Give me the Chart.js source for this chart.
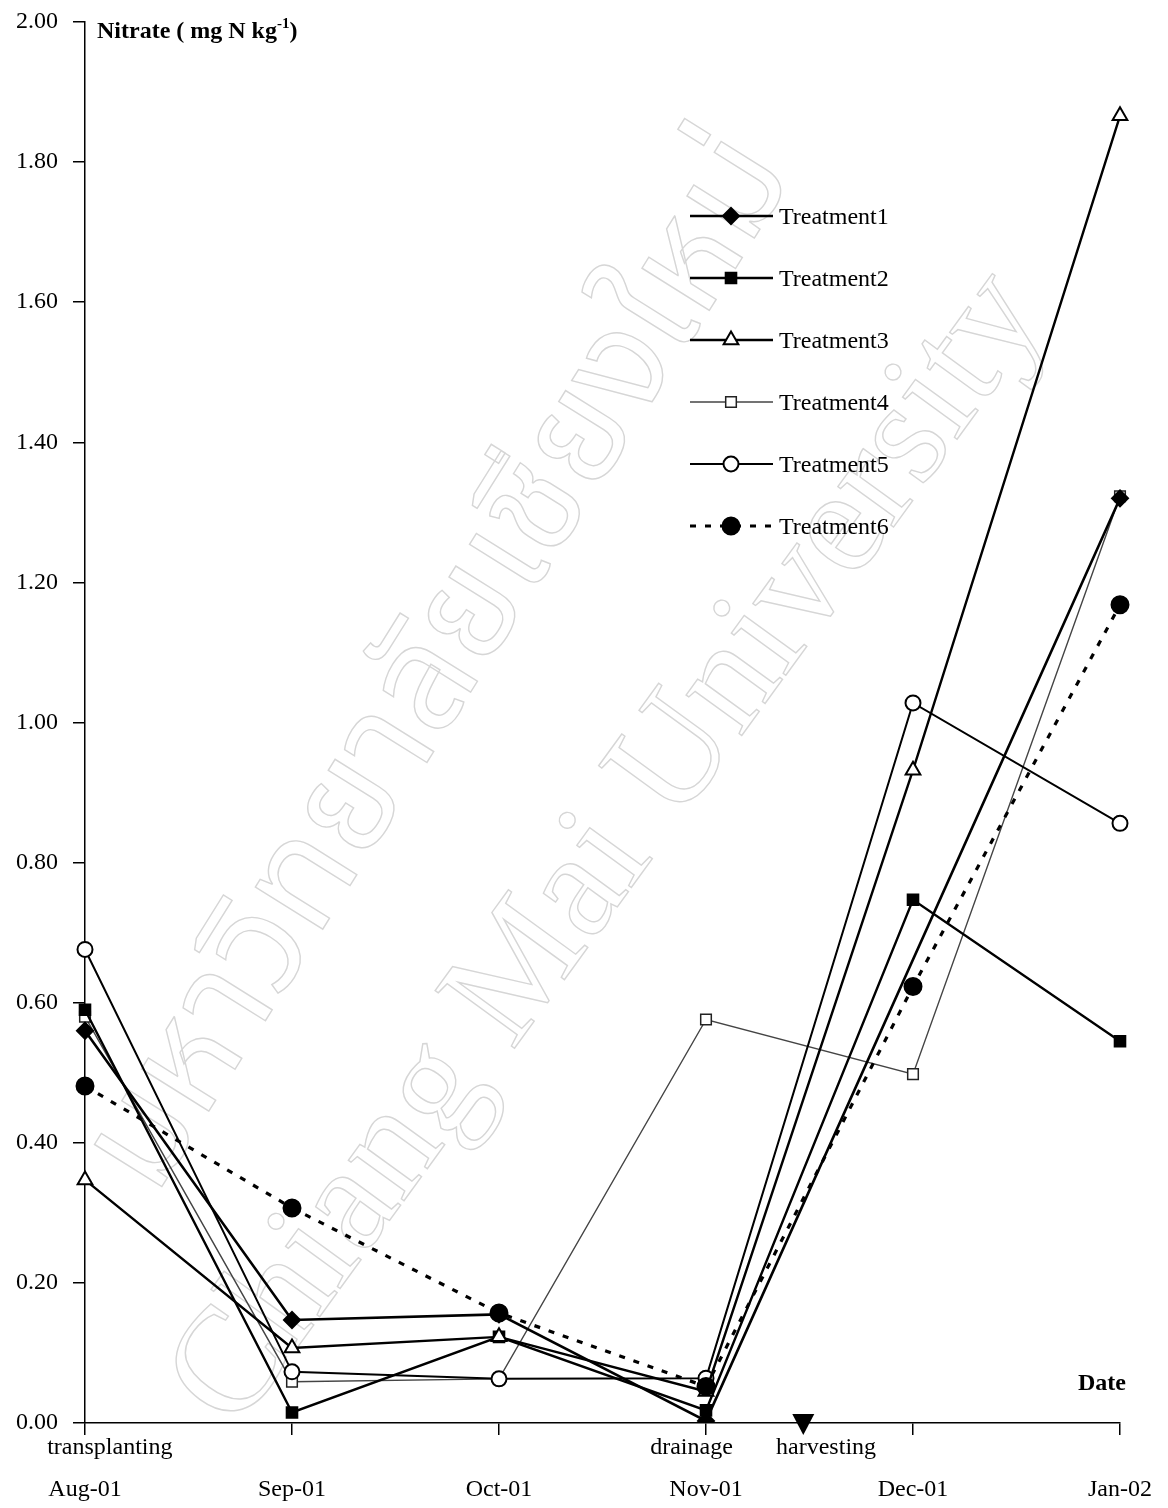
<!DOCTYPE html>
<html>
<head>
<meta charset="utf-8">
<script src="https://cdn.jsdelivr.net/npm/chart.js@4.4.1/dist/chart.umd.min.js"></script>
<style>
  html, body { margin: 0; padding: 0; background: #fff; }
  #wrap { width: 1168px; height: 1508px; }
</style>
</head>
<body>
<div id="wrap"><canvas id="nitrateChart" width="1168" height="1508"></canvas></div>
<script>
// ---- data ----
const months = ['Aug-01', 'Sep-01', 'Oct-01', 'Nov-01', 'Dec-01', 'Jan-02'];
const yTicks = [0, 0.2, 0.4, 0.6, 0.8, 1.0, 1.2, 1.4, 1.6, 1.8, 2.0];

const treatment1 = [0.560, 0.147, 0.155, 0.003, null, 1.320];
const treatment2 = [0.590, 0.015, 0.123, 0.018, 0.747, 0.545];
const treatment3 = [0.347, 0.107, 0.123, 0.045, 0.932, 1.866];
const treatment4 = [0.580, 0.059, 0.063, 0.576, 0.498, 1.323];
const treatment5 = [0.676, 0.073, 0.063, 0.064, 1.028, 0.856];
const treatment6 = [0.481, 0.307, 0.157, 0.052, 0.623, 1.168];

// events marked under the x axis (position in month units)
const events = [
  { label: 'transplanting', at: 0.12 },
  { label: 'drainage', at: 3.0 - 0.07 },
  { label: 'harvesting', at: 3.58 }
];
const harvestMark = 3.47;

const serif = '"Liberation Serif", "Times New Roman", serif';

// faint watermark text behind the plot
const watermark = {
  id: 'watermark',
  beforeDatasetsDraw(chart) {
    const ctx = chart.ctx;
    ctx.save();
    ctx.strokeStyle = '#d6d6d6';
    ctx.lineWidth = 1.4;
    ctx.textAlign = 'center';
    ctx.textBaseline = 'middle';

    ctx.save();
    ctx.translate(450, 670);
    ctx.rotate(-58 * Math.PI / 180);
    ctx.font = '145px "Noto Sans Thai", "DejaVu Sans", sans-serif';
    ctx.strokeText('มหาวิทยาลัยเชียงใหม่', 0, 0);
    ctx.restore();

    ctx.save();
    ctx.translate(610, 850);
    ctx.rotate(-54 * Math.PI / 180);
    ctx.font = '150px ' + serif;
    ctx.strokeText('Chiang Mai University', 0, 0);
    ctx.restore();

    ctx.restore();
  }
};

// legend, axis titles and event labels
const extras = {
  id: 'extras',
  afterDraw(chart) {
    const ctx = chart.ctx;
    const xs = chart.scales.x;
    const area = chart.chartArea;
    ctx.save();
    ctx.fillStyle = '#000';

    // y title with superscript
    ctx.textBaseline = 'alphabetic';
    ctx.textAlign = 'left';
    ctx.font = 'bold 24px ' + serif;
    let tx = 97;
    ctx.fillText('Nitrate ( mg N kg', tx, 38);
    tx += ctx.measureText('Nitrate ( mg N kg').width;
    ctx.font = 'bold 15px ' + serif;
    ctx.fillText('-1', tx, 28);
    tx += ctx.measureText('-1').width;
    ctx.font = 'bold 24px ' + serif;
    ctx.fillText(')', tx, 38);

    // x title
    ctx.textAlign = 'right';
    ctx.textBaseline = 'middle';
    ctx.fillText('Date', 1126, 1384);

    // events under the axis
    ctx.font = '24px ' + serif;
    ctx.textAlign = 'center';
    events.forEach(ev => {
      ctx.fillText(ev.label, xs.getPixelForValue(ev.at), area.bottom + 25);
    });
    const hx = xs.getPixelForValue(harvestMark);
    ctx.beginPath();
    ctx.moveTo(hx - 11, area.bottom - 9);
    ctx.lineTo(hx + 11, area.bottom - 9);
    ctx.lineTo(hx, area.bottom + 12);
    ctx.closePath();
    ctx.fill();

    // legend
    chart.data.datasets.forEach((ds, i) => {
      const y = 216 + i * 62;
      ctx.save();
      ctx.strokeStyle = ds.borderColor;
      ctx.lineWidth = ds.borderWidth;
      ctx.setLineDash(ds.borderDash || []);
      ctx.beginPath();
      ctx.moveTo(690, y);
      ctx.lineTo(773, y);
      ctx.stroke();
      ctx.setLineDash([]);
      ctx.fillStyle = ds.pointBackgroundColor;
      ctx.strokeStyle = ds.pointBorderColor;
      ctx.lineWidth = ds.pointBorderWidth;
      Chart.helpers.drawPoint(ctx, { pointStyle: ds.pointStyle, radius: ds.pointRadius, borderWidth: ds.pointBorderWidth }, 731, y);
      ctx.restore();
      ctx.fillStyle = '#000';
      ctx.font = '24px ' + serif;
      ctx.textAlign = 'left';
      ctx.textBaseline = 'middle';
      ctx.fillText(ds.label, 779, y + 2);
    });
    ctx.restore();
  }
};

function series(label, data, opts) {
  return Object.assign({
    label: label,
    data: data,
    borderColor: '#000',
    borderWidth: 2.4,
    pointBorderColor: '#000',
    pointBackgroundColor: '#000',
    pointBorderWidth: 2,
    pointRadius: 7,
    tension: 0,
    spanGaps: true,
    fill: false
  }, opts);
}

const ctx = document.getElementById('nitrateChart');
new Chart(ctx, {
  type: 'line',
  data: {
    labels: months,
    datasets: [
      series('Treatment1', treatment1, { pointStyle: 'rectRot', pointRadius: 8, borderWidth: 2.6, order: 4 }),
      series('Treatment2', treatment2, { pointStyle: 'rect', pointRadius: 7.5, order: 5 }),
      series('Treatment3', treatment3, { pointStyle: 'triangle', pointRadius: 8.5, pointBackgroundColor: '#fff', order: 2 }),
      series('Treatment4', treatment4, { pointStyle: 'rect', pointRadius: 7.5, borderColor: '#444', borderWidth: 1.4,
                                         pointBorderColor: '#222', pointBorderWidth: 1.5, pointBackgroundColor: '#fff', order: 6 }),
      series('Treatment5', treatment5, { pointStyle: 'circle', pointRadius: 7.5, borderWidth: 2, pointBackgroundColor: '#fff', order: 3 }),
      series('Treatment6', treatment6, { pointStyle: 'circle', pointRadius: 8.5, borderWidth: 3.2, borderDash: [6, 9], order: 1 })
    ]
  },
  options: {
    responsive: false,
    animation: false,
    events: [],
    layout: { padding: { top: 22, right: 48, left: 0, bottom: 0 } },
    plugins: {
      legend: { display: false },
      tooltip: { enabled: false },
      title: { display: false }
    },
    scales: {
      x: {
        type: 'category',
        offset: false,
        afterFit(scale) {
          scale.height = 85;
          scale.paddingLeft = 0;
          scale.paddingRight = 0;
        },
        grid: { drawOnChartArea: false, drawTicks: true, tickLength: 12, color: '#000', lineWidth: 1.5 },
        border: { color: '#000', width: 1.5 },
        ticks: { color: '#000', font: { family: serif, size: 24 }, padding: 40, maxRotation: 0, autoSkip: false }
      },
      y: {
        min: 0,
        max: 2,
        afterFit(scale) {
          scale.width = 85;
          scale.paddingTop = 0;
          scale.paddingBottom = 0;
        },
        afterBuildTicks(scale) { scale.ticks = yTicks.map(v => ({ value: v })); },
        grid: { drawOnChartArea: false, drawTicks: true, tickLength: 12, color: '#000', lineWidth: 1.5 },
        border: { color: '#000', width: 1.5 },
        ticks: { color: '#000', font: { family: serif, size: 24 }, padding: 15,
                 callback: v => Number(v).toFixed(2) }
      }
    }
  },
  plugins: [watermark, extras]
});
</script>
</body>
</html>
